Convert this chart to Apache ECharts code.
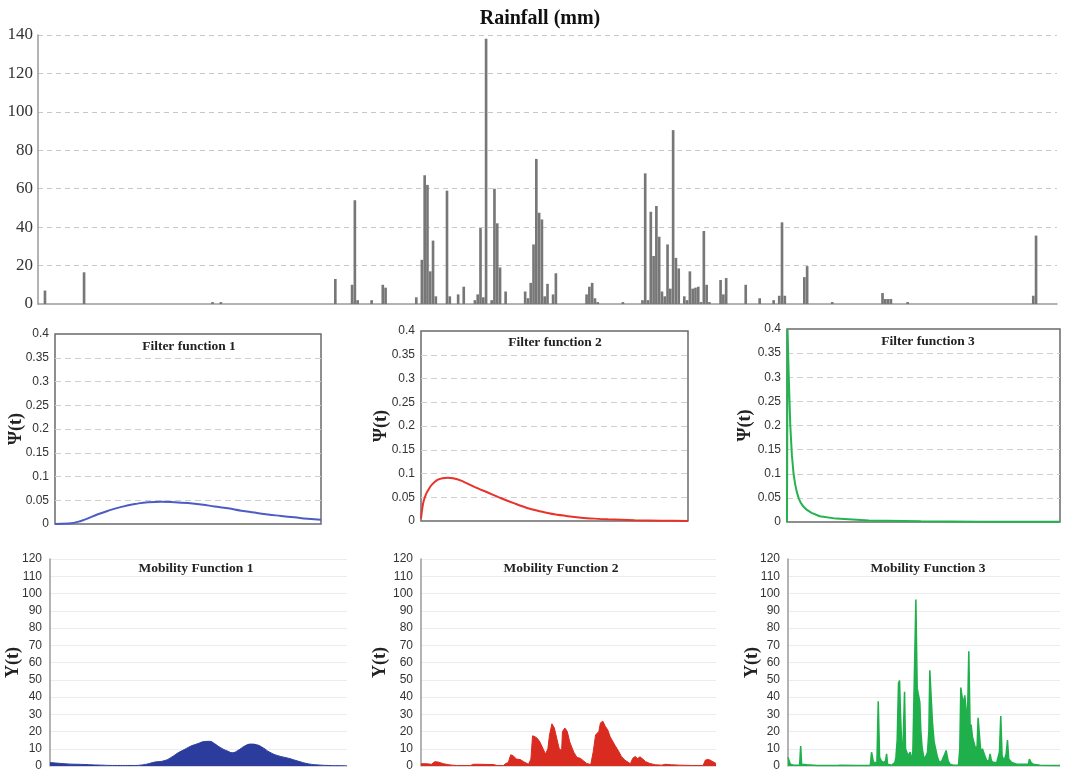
<!DOCTYPE html>
<html>
<head>
<meta charset="utf-8">
<script src="https://cdn.jsdelivr.net/npm/echarts@6/dist/echarts.min.js"></script>
<style>
  html, body { margin: 0; padding: 0; background: #fff; }
  #main { width: 1065px; height: 771px; }
</style>
</head>
<body>
<div id="main"></div>
<script>
// rainfall, day index (0..364) and mm
const rainDays = [2, 16, 62, 65, 106, 112, 113, 114, 119, 123, 124, 135, 137, 138, 139, 140, 141, 142, 146, 147, 150, 152,
  156, 157, 158, 159, 160, 162, 163, 164, 165, 167, 174, 175, 176, 177, 178, 179, 180, 181, 182, 184, 185,
  196, 197, 198, 199, 200, 209, 216, 217, 218, 219, 220, 221, 222, 223, 224, 225, 226, 227, 228, 229,
  231, 232, 233, 234, 235, 236, 237, 238, 239, 240, 244, 245, 246, 253, 258, 263, 265, 266, 267,
  274, 275, 284, 302, 303, 304, 305, 311, 356, 357]
const rainVals = [7, 16.5, 1, 1, 13, 10, 54, 2, 2, 10, 8.5, 3.5, 23, 67, 62, 17, 33, 4, 59, 4, 5, 9,
  2, 5, 39.5, 3.5, 138, 2, 60, 42, 19, 6.5, 6.5, 3, 11, 31, 75.5, 47.5, 44, 4, 10.5, 5, 16,
  5, 9, 11, 3, 1, 1, 2, 68, 2, 48, 25, 51, 35, 6.5, 4, 31, 8, 90.5, 24, 18.5,
  4, 2, 17, 8, 8.5, 9, 1, 38, 10, 1, 12.5, 5, 13.5, 10, 3, 2, 4.3, 42.5, 4.3,
  14, 19.7, 1, 5.7, 2.6, 2.6, 2.6, 1, 4.3, 35.6]
const nDays = 365

// filter functions, t as fraction of the window
const f1T = [0, 0.05, 0.1, 0.15, 0.2, 0.25, 0.3, 0.35, 0.4, 0.45, 0.5, 0.55, 0.6, 0.65, 0.7, 0.75, 0.8, 0.85, 0.9, 0.95, 1]
const f1Y = [0, 0.001, 0.007, 0.018, 0.028, 0.036, 0.042, 0.046, 0.047, 0.046, 0.044, 0.041, 0.037, 0.033, 0.028, 0.024, 0.02, 0.017, 0.014, 0.011, 0.009]
const f2T = [0, 0.005, 0.01, 0.02, 0.03, 0.04, 0.06, 0.08, 0.1, 0.12, 0.15, 0.2, 0.25, 0.3, 0.35, 0.4, 0.45, 0.5, 0.55, 0.6, 0.65, 0.7, 0.8, 0.9, 1]
const f2Y = [0.005, 0.027, 0.042, 0.058, 0.068, 0.076, 0.086, 0.09, 0.091, 0.09, 0.085, 0.072, 0.06, 0.048, 0.037, 0.027, 0.02, 0.014, 0.01, 0.007, 0.005, 0.0035, 0.0015, 0.0006, 0.0002]
const f3T = [0, 0.002, 0.006, 0.012, 0.018, 0.024, 0.03, 0.036, 0.043, 0.05, 0.06, 0.073, 0.09, 0.12, 0.18, 0.3, 0.49, 0.7, 1]
const f3Y = [0, 0.4, 0.31, 0.2, 0.138, 0.1, 0.078, 0.062, 0.049, 0.04, 0.032, 0.025, 0.019, 0.012, 0.007, 0.003, 0.0014, 0.0007, 0.0004]

// mobility functions, day and value
const m1Days = [0, 8, 21, 41, 62, 83, 103, 111, 120, 128, 140, 149, 157, 165, 173, 182, 190, 196, 202, 210, 219, 224, 231, 239, 247, 254, 262, 270, 280, 293, 305, 318, 330, 342, 355, 365]
const m1Vals = [2, 1.7, 1.2, 0.9, 0.5, 0.3, 0.3, 0.5, 1.2, 2.2, 3, 5, 7.5, 9.5, 11.5, 13, 14.2, 14.3, 13, 10.5, 8.5, 7.7, 9, 11.5, 12.7, 12.3, 10.5, 8, 6, 4.5, 2.8, 1.2, 0.6, 0.3, 0.2, 0.2]

const m2Days = [0, 7, 13, 17, 21, 28, 36, 44, 61, 65, 73, 90, 94, 102, 105, 108, 111, 114, 118, 123, 127, 133, 136, 138, 141, 144, 147, 151, 154, 157, 159, 162, 165, 168, 171, 174, 175, 178, 181, 184, 189, 193, 197, 201, 205, 210, 213, 216, 220, 222, 225, 228, 231, 234, 237, 240, 244, 248, 252, 259, 262, 265, 268, 271, 274, 278, 283, 290, 298, 302, 310, 320, 335, 349, 352, 356, 360, 365]
const m2Vals = [1.3, 1.3, 1, 2.5, 2.3, 1.3, 0.6, 0.3, 0.3, 1, 1, 0.8, 0.3, 0.3, 1.5, 2, 6.5, 6, 4, 3.7, 2.5, 1, 4, 17.5, 17, 16, 14, 10, 7, 10, 18, 24.5, 22, 16, 10, 9, 20, 22, 20, 14, 8, 5, 4.5, 3, 1.5, 0.8, 8, 18, 20, 25, 26, 23, 21, 17, 14.5, 12, 9, 5.5, 3.5, 1.3, 4.5, 5.5, 4.3, 5.3, 4.2, 2.5, 1.5, 0.7, 0.5, 1, 0.7, 0.5, 0.3, 0.3, 3.5, 3.8, 2.8, 1.5]

const m3Days = [0, 1.8, 3.1, 7.6, 15.6, 17, 18.3, 25.5, 38.9, 61.2, 66.6, 67.9, 70.1, 92.5, 110.4, 112.1, 113.5, 114.8, 119.3, 121.1, 122.9, 125.1, 128.2, 130.9, 132.3, 133.6, 139.4,
  143.4, 144.8, 146.5, 148.3, 149.7, 151, 152.8, 154.1, 156.4, 157.7, 159.5, 161.7, 164, 166.2, 167.5, 168.4, 170.2, 171.6, 173.4, 175.1, 176.9, 178.3, 180.1, 182.7, 185.4, 187.2,
  189, 190.3, 192.1, 193.9, 196.1, 198.4, 200.6, 203.3, 206.4, 209.5, 212.2, 214.9, 217.6, 222, 228.8, 230.5, 231.9, 233.7, 235.9, 237.2, 239, 240.8, 242.6, 244.4, 245.7,
  247.5, 249.3, 251.1, 252.4, 253.8, 255.1, 256.9, 258.7, 260.9, 263.2, 264.9, 266.7, 269.4, 271.2, 273, 275.7, 280.1, 283.7, 285.5, 287.3, 290, 292.7, 294.5, 296.2, 300.2,
  307, 313.7, 322.6, 323.9, 326.2, 329.3, 338.2, 356.1, 365]
const m3Vals = [5, 5, 1, 0.5, 0.5, 11.5, 1, 0.7, 0.3, 0.3, 0.3, 1, 0.5, 0.3, 0.3, 8, 9, 2, 2, 37.5, 5, 3, 2, 3, 7, 1, 0.5,
  2, 5, 15, 48, 49.5, 30, 10, 8, 43, 10, 8, 6, 8, 3, 8, 27, 28, 96.5, 45, 46, 37, 20, 10, 4, 6, 8,
  20, 55.5, 40, 25, 14, 15, 5, 2, 3, 6, 9, 3, 1, 0.5, 0.5, 10, 45.5, 40, 36, 41, 33, 27, 66.5, 22, 24,
  17, 14, 15, 9, 12, 28, 18, 8, 10, 11, 5, 3, 3, 7, 3, 2, 2, 8, 29, 6, 3, 7, 15, 4, 2,
  1, 1, 1, 4, 2, 1, 0.5, 0.3, 0.3]

const serif = 'Liberation Serif'
const sans = 'Liberation Sans'

let dayCats = []
let rainData = []
for (let i = 0; i < nDays; i++) {
  dayCats.push(String(i + 1))
  rainData.push(0)
}
rainDays.forEach((d, i) => { rainData[d] = rainVals[i] })

function pairs(xs, ys) {
  return xs.map((x, i) => [x, ys[i]])
}

let myChart = echarts.init(document.getElementById('main'))

// small panel helpers
function filterY(grid, gap) {
  return {
    type: 'value', gridIndex: grid, min: 0, max: 0.4, interval: 0.05,
    name: 'Ψ(t)', nameLocation: 'middle', nameGap: gap, nameMoveOverlap: false,
    nameTextStyle: { fontFamily: serif, fontWeight: 'bold', fontSize: 18, color: '#222' },
    axisLine: { show: false }, axisTick: { show: false },
    axisLabel: { fontFamily: sans, fontSize: 12, color: '#333', margin: 6 },
    splitLine: { show: true, showMinLine: false, showMaxLine: false, lineStyle: { color: '#cfcfcf', type: [6, 4], width: 1 } },
  }
}
function mobY(grid, gap) {
  return {
    type: 'value', gridIndex: grid, min: 0, max: 120, interval: 10,
    name: 'Y(t)', nameLocation: 'middle', nameGap: gap, nameMoveOverlap: false,
    nameTextStyle: { fontFamily: serif, fontWeight: 'bold', fontSize: 18, color: '#222' },
    axisLine: { show: true, lineStyle: { color: '#9a9a9a', width: 1.5 } }, axisTick: { show: false },
    axisLabel: { fontFamily: sans, fontSize: 12, color: '#333', margin: 8 },
    splitLine: { show: true, showMinLine: false, lineStyle: { color: '#ececec', width: 1 } },
  }
}
function plainX(grid, max) {
  return {
    type: 'value', gridIndex: grid, min: 0, max: max,
    axisLine: { show: false }, axisTick: { show: false }, axisLabel: { show: false }, splitLine: { show: false },
  }
}
function mobX(grid) {
  let ax = plainX(grid, nDays)
  ax.axisLine = { show: true, lineStyle: { color: '#d8d8d8', width: 1 } }
  return ax
}
function panelTitle(text, x, y) {
  return {
    text: text, left: x, top: y, textAlign: 'center', padding: 0,
    textStyle: { fontFamily: serif, fontWeight: 'bold', fontSize: 13.5, color: '#222' },
  }
}
const boxStyle = { show: true, borderColor: '#6a6a6a', borderWidth: 1.5, backgroundColor: 'transparent' }
function panelGrid(left, right, top, bottom, boxed) {
  let g = { left: left, right: right, top: top, bottom: bottom, outerBoundsMode: 'none', containLabel: false }
  return boxed ? Object.assign(g, boxStyle) : g
}

let options = {
  animation: false,
  backgroundColor: '#fff',
  title: [
    { text: 'Rainfall (mm)', left: 540, top: 9, textAlign: 'center', padding: 0,
      textStyle: { fontFamily: serif, fontWeight: 'bold', fontSize: 20, color: '#111' } },
    panelTitle('Filter function 1', 189, 340),
    panelTitle('Filter function 2', 555, 336),
    panelTitle('Filter function 3', 928, 335),
    panelTitle('Mobility Function 1', 196, 562),
    panelTitle('Mobility Function 2', 561, 562),
    panelTitle('Mobility Function 3', 928, 562),
  ],
  grid: [
    panelGrid(38, 8, 35, 467, false),
    panelGrid(55, 744, 334, 247, true),
    panelGrid(421, 377, 331, 250, true),
    panelGrid(787, 5, 329, 249, true),
    panelGrid(50, 718, 559, 5, false),
    panelGrid(421, 349, 559, 5, false),
    panelGrid(788, 5, 559, 5, false),
  ],
  xAxis: [
    {
      type: 'category', gridIndex: 0, data: dayCats,
      axisLine: { show: true, lineStyle: { color: '#9a9a9a', width: 1.5 } },
      axisTick: { show: false }, axisLabel: { show: false },
    },
    plainX(1, 1), plainX(2, 1), plainX(3, 1),
    mobX(4), mobX(5), mobX(6),
  ],
  yAxis: [
    {
      type: 'value', gridIndex: 0, min: 0, max: 140, interval: 20,
      axisLine: { show: true, lineStyle: { color: '#9a9a9a', width: 1.5 } }, axisTick: { show: false },
      axisLabel: { fontFamily: serif, fontSize: 17, color: '#333', margin: 5 },
      splitLine: { show: true, showMinLine: false, lineStyle: { color: '#c8c8c8', type: [5, 4], width: 1 } },
    },
    filterY(1, 30), filterY(2, 31), filterY(3, 33),
    mobY(4, 28), mobY(5, 32), mobY(6, 27),
  ],
  series: [
    {
      name: 'Rainfall', type: 'bar', xAxisIndex: 0, yAxisIndex: 0,
      data: rainData, barCategoryGap: '5%',
      itemStyle: { color: '#777777' },
    },
    {
      type: 'line', xAxisIndex: 1, yAxisIndex: 1, data: pairs(f1T, f1Y),
      smooth: true, showSymbol: false, lineStyle: { color: '#4d5cc4', width: 2 },
    },
    {
      type: 'line', xAxisIndex: 2, yAxisIndex: 2, data: pairs(f2T, f2Y),
      smooth: 0.3, showSymbol: false, lineStyle: { color: '#e8332b', width: 2 },
    },
    {
      type: 'line', xAxisIndex: 3, yAxisIndex: 3, data: pairs(f3T, f3Y),
      smooth: false, showSymbol: false, lineStyle: { color: '#25b34f', width: 2 },
    },
    {
      type: 'line', xAxisIndex: 4, yAxisIndex: 4, data: pairs(m1Days, m1Vals),
      smooth: true, showSymbol: false,
      lineStyle: { color: '#2c3c9c', width: 1 }, areaStyle: { color: '#2c3c9c', opacity: 1 },
    },
    {
      type: 'line', xAxisIndex: 5, yAxisIndex: 5, data: pairs(m2Days, m2Vals),
      showSymbol: false,
      lineStyle: { color: '#d92b20', width: 1 }, areaStyle: { color: '#d92b20', opacity: 1 },
    },
    {
      type: 'line', xAxisIndex: 6, yAxisIndex: 6, data: pairs(m3Days, m3Vals),
      showSymbol: false,
      lineStyle: { color: '#1fb04c', width: 1.5 }, areaStyle: { color: '#1fb04c', opacity: 1 },
    },
  ],
}

myChart.setOption(options)
</script>
</body>
</html>
